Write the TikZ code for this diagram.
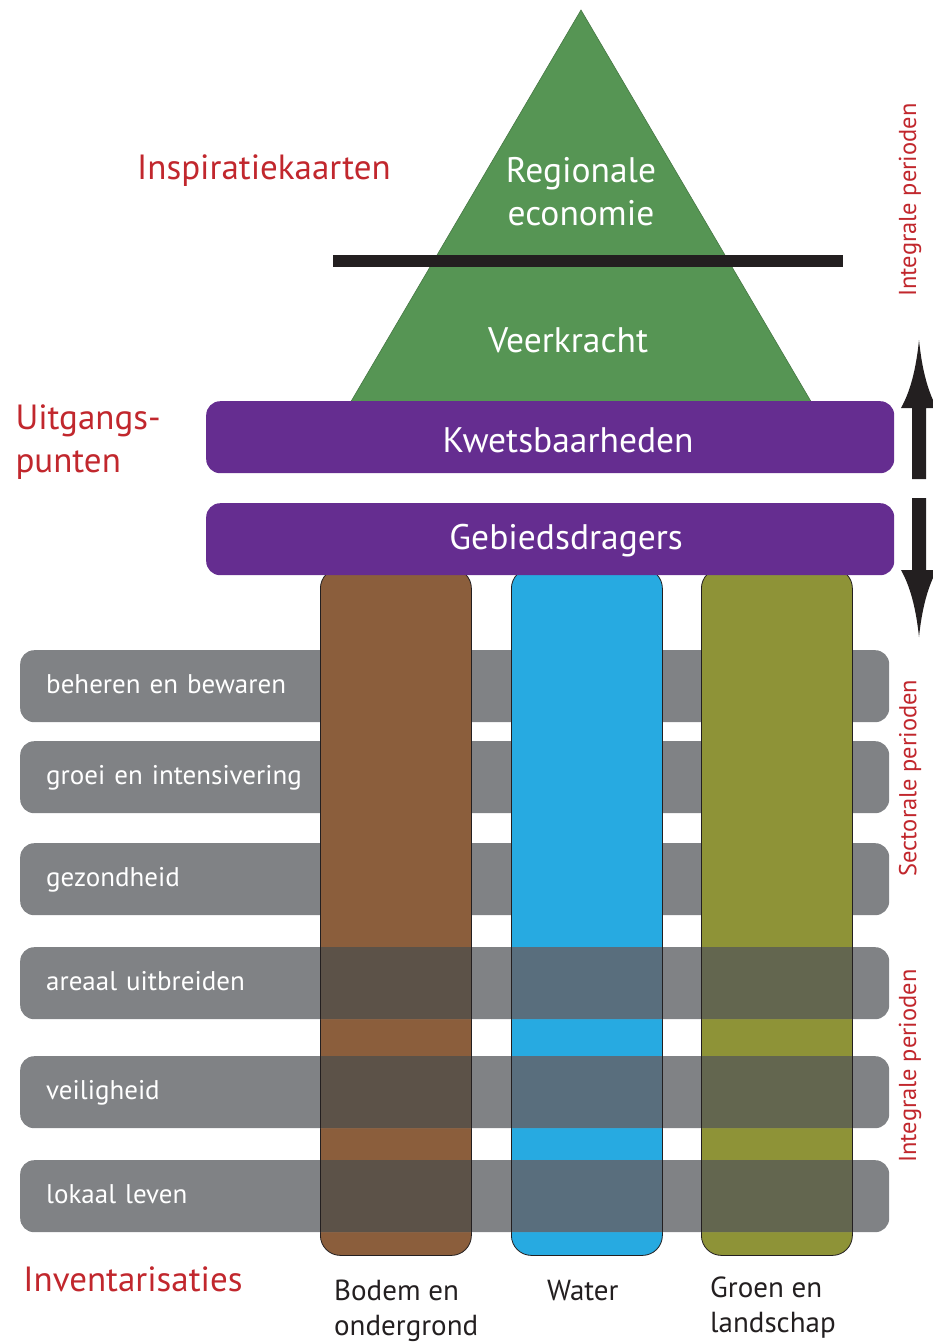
\documentclass[tikz,border=0pt]{standalone}
\usepackage{fontspec}
\setmainfont{PT Sans}
\usetikzlibrary{positioning}
\definecolor{piramide}{HTML}{569554}
\definecolor{paars}{HTML}{652D90}
\definecolor{grijs}{HTML}{808285}
\definecolor{rood}{HTML}{C1272D}
\definecolor{zwart}{HTML}{231F20}
\definecolor{bruin}{HTML}{8B5E3C}
\definecolor{blauw}{HTML}{27AAE1}
\definecolor{olijf}{HTML}{8E9337}
\definecolor{bruindonker}{HTML}{5C5248}
\definecolor{blauwdonker}{HTML}{596E7D}
\definecolor{olijfdonker}{HTML}{63664F}

\begin{document}
\begin{tikzpicture}[x=1pt,y=-1pt,
  grijsbalk/.style={fill=grijs, rounded corners=14pt, minimum width=869pt, minimum height=72pt,
    inner xsep=26pt, text width=817pt, text height=20pt, text depth=6pt, align=left,
    anchor=north west, text=white, font=\fontsize{27}{32}\selectfont},
  paarsbalk/.style={fill=paars, rounded corners=14pt, minimum width=688pt, minimum height=72pt,
    anchor=north west},
  paarstekst/.style={text=white, font=\fontsize{35.5}{42}\selectfont},
  zuil/.style={draw=zwart, line width=0.8pt, rounded corners=20pt, minimum width=151pt,
    minimum height=687pt, anchor=north west},
  rodetekst/.style={text=rood, font=\fontsize{35}{43}\selectfont},
  zijtekst/.style={text=rood, rotate=90, font=\fontsize{24.5}{28}\selectfont},
  zuiltekst/.style={text=zwart, align=left, anchor=north west, inner sep=0pt,
    font=\fontsize{29}{35}\selectfont},
  piramidetekst/.style={text=white, align=center, font=\fontsize{35.5}{43}\selectfont}]
\useasboundingbox (0,0) rectangle (933,1342);

\draw[piramide!80!black, fill=piramide, line width=0.6pt] (581,10) -- (346,410) -- (816,410) -- cycle;
\fill[zwart] (333,255) rectangle (843,267);
\node[piramidetekst] (regio) at (581,192) {Regionale\\economie};
\node[piramidetekst] (veer) at (568,340) {Veerkracht};

\node[grijsbalk] (beheren) at (20,650) {beheren en bewaren};
\node[grijsbalk] (groei) at (20,741) {groei en intensivering};
\node[grijsbalk] (gezond) at (20,843) {gezondheid};

\node[zuil, fill=bruin] (bodem) at (320,568) {};
\node[zuil, fill=blauw] (water) at (511,568) {};
\node[zuil, fill=olijf] (groen) at (701,568) {};

\node[grijsbalk] (areaal) at (20,947) {areaal uitbreiden};
\node[grijsbalk] (veilig) at (20,1056) {veiligheid};
\node[grijsbalk] (lokaal) at (20,1160) {lokaal leven};

\foreach \y in {947,1056,1160}
  \foreach \x/\k in {320/bruindonker,511/blauwdonker,701/olijfdonker}
  {
  \fill[\k] (\x,\y) rectangle +(151,72);
  \draw[zwart, line width=0.8pt] (\x,\y) -- +(0,72) (\x+151,\y) -- +(0,72);
  }

\node[paarsbalk] (kwets) at (206,401) {};
\node[paarsbalk] (gebied) at (206,503) {};
\node[paarstekst] (kwetstekst) at ([xshift=18pt,yshift=-3pt]kwets.center) {Kwetsbaarheden};
\node[paarstekst] (gebiedtekst) at ([xshift=16pt,yshift=-1pt]gebied.center) {Gebiedsdragers};

\fill[zwart] (912,479) -- (912,408) -- (901,408) .. controls (910,392) and (916,370) .. (919,340)
  .. controls (922,370) and (928,392) .. (937,408) -- (926,408) -- (926,479) -- cycle;
\fill[zwart] (912,498) -- (912,570) -- (901,570) .. controls (910,586) and (916,608) .. (919,637)
  .. controls (922,608) and (928,586) .. (937,570) -- (926,570) -- (926,498) -- cycle;

\node[rodetekst] (inspiratie) at (264,171) {Inspiratiekaarten};
\node[rodetekst, align=left, anchor=west] (uitgang) at (12,442) {Uitgangs-\\punten};
\node[rodetekst] (inventaris) at (133,1279) {Inventarisaties};

\node[zijtekst] (integraal1) at (910,200) {Integrale perioden};
\node[zijtekst] (sectoraal) at (910,778) {Sectorale perioden};
\node[zijtekst] (integraal2) at (910,1066) {Integrale perioden};

\node[zuiltekst] (bodemtekst) at (334,1280) {Bodem en\\ondergrond};
\node[zuiltekst] (watertekst) at (547,1280) {Water};
\node[zuiltekst] (groentekst) at (710,1277) {Groen en\\landschap};
\end{tikzpicture}
\end{document}
